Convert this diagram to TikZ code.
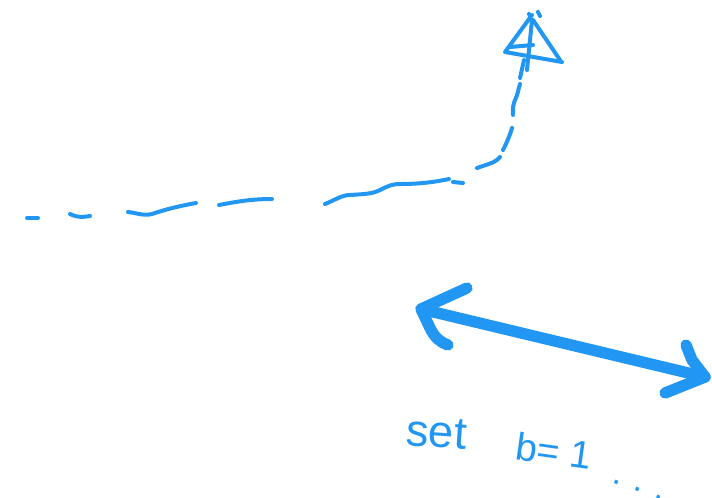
\documentclass[tikz,border=0pt]{standalone}
\usepackage{fontspec}
\setmainfont{Liberation Sans}
\definecolor{pen}{RGB}{33,150,243}
\begin{document}
\begin{tikzpicture}[x=0.75pt,y=-0.75pt,
  stroke/.style={pen,line width=3pt,line cap=round,line join=round},
  fat/.style={pen,line width=8.5pt,line cap=round,line join=round},
  hand/.style={pen,inner sep=0pt,anchor=base west}]
\useasboundingbox (0,0) rectangle (712,497);
% dashed path
\draw[stroke] (27,218) -- (38,218);
\draw[stroke] (70,214) .. controls (78,218) and (84,217) .. (90,216);
\draw[stroke] (128,212) .. controls (138,213) and (145,217) .. (155,213) .. controls (170,208) and (185,205) .. (196,203);
\draw[stroke] (219,205) .. controls (235,202) and (250,199) .. (272,199);
\draw[stroke] (325,204) .. controls (335,200) and (342,195) .. (350,195) .. controls (365,194) and (372,194) .. (380,190) .. controls (388,186) and (392,184) .. (400,184) .. controls (420,184) and (435,182) .. (449,179);
\draw[stroke] (453,182) -- (463,183);
\draw[stroke] (477,168) .. controls (488,164) and (495,163) .. (500,157);
\draw[stroke] (503,150) .. controls (507,142) and (510,135) .. (512,128);
\draw[stroke] (513,115) .. controls (512,108) and (514,103) .. (515,100) .. controls (518,94) and (518,90) .. (520,84);
\draw[stroke] (520,78) -- (524,60);
% arrowhead
\draw[stroke] (527,70) -- (532,20);
\draw[stroke] (532,15) -- (505,52) -- (562,62);
\draw[stroke] (533,20) -- (560,60);
\draw[stroke] (510,47) -- (533,45);
\draw[stroke] (529,14) -- (530,16);
\draw[stroke] (538,12) -- (540,16);
% double arrow
\draw[fat] (421,309) -- (705,377);
\draw[fat] (467,288) -- (421,309) -- (430,328) .. controls (435,338) and (440,342) .. (448,345);
\draw[fat] (686,345) -- (692,360) -- (705,377) -- (665,393);
% text
\node[hand,font=\fontsize{34pt}{34pt}\selectfont,rotate=-4] (set) at (405,445) {set};
\node[hand,font=\fontsize{29pt}{29pt}\selectfont,rotate=-8] (beq) at (514,459) {b= 1};
\node[hand,font=\fontsize{26pt}{26pt}\selectfont,rotate=-20] (dots) at (611,482) {. . .};
\end{tikzpicture}
\end{document}
